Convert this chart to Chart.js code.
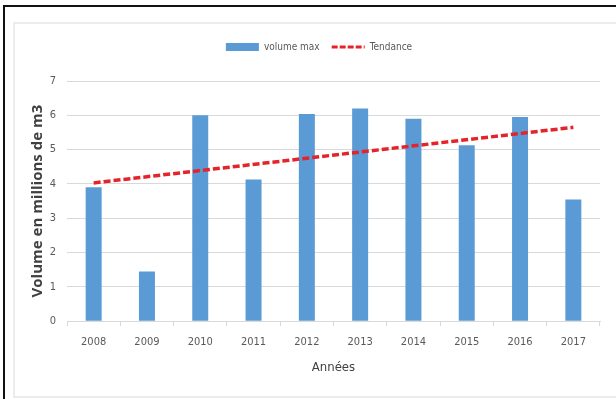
<!DOCTYPE html>
<html>
<head>
<meta charset="utf-8">
<script src="https://cdn.jsdelivr.net/npm/chart.js@4.4.1/dist/chart.umd.min.js"></script>
<style>
  html, body { margin: 0; padding: 0; background: #fff; }
  .page { position: relative; width: 616px; height: 399px; overflow: hidden; }
  .outer { position: absolute; left: 3px; top: 5px; right: -5px; bottom: -5px; border-top: 2px solid #111; border-left: 2px solid #111; }
  .inner { position: absolute; left: 13px; top: 22px; right: -5px; bottom: 1px; border: 2px solid #ececec; background: #fff; }
  #chart { position: absolute; left: 0; top: 0; }
</style>
</head>
<body>
<div class="page">
  <div class="outer"></div>
  <div class="inner"></div>
  <canvas id="chart" width="616" height="399"></canvas>
</div>
<script>
// values
const years = ['2008', '2009', '2010', '2011', '2012', '2013', '2014', '2015', '2016', '2017'];
const volumeMax = [3.9, 1.45, 6.0, 4.13, 6.04, 6.2, 5.9, 5.13, 5.95, 3.55];
// trend line: only the two ends, the line is straight between them
const tendance = [4.03, null, null, null, null, null, null, null, null, 5.65];

const narrow = "'Liberation Sans Narrow', 'DejaVu Sans Condensed', sans-serif";

const ctx = document.getElementById('chart').getContext('2d');
const chart = new Chart(ctx, {
  data: {
    labels: years,
    datasets: [
      {
        type: 'line',
        label: 'Tendance',
        data: tendance,
        spanGaps: true,
        borderColor: '#e3242b',
        backgroundColor: '#e3242b',
        borderWidth: 3.5,
        borderDash: [7, 3],
        pointRadius: 0,
        order: 0,
      },
      {
        type: 'bar',
        label: 'volume max',
        data: volumeMax,
        backgroundColor: '#5b9bd5',
        borderWidth: 0,
        categoryPercentage: 1,
        barPercentage: 0.3,
        order: 1,
      },
    ]
  },
  options: {
    responsive: false,
    animation: false,
    layout: {
      padding: {top: 30, right: 16, bottom: 24, left: 38}
    },
    plugins: {
      tooltip: {enabled: false},
      // empty title used as a gap between the legend and the plot
      title: {
        display: true,
        text: '',
        weight: 500,
        padding: {top: 9, bottom: 0},
        font: {size: 10, lineHeight: 1},
      },
      legend: {
        position: 'top',
        labels: {
          usePointStyle: true,
          pointStyleWidth: 33,
          boxHeight: 8,
          padding: 12,
          color: '#595959',
          font: {family: narrow, size: 10},
          generateLabels: function(chart) {
            const items = chart.data.datasets.map(function(ds, i) {
              const isLine = ds.type === 'line';
              return {
                text: ds.label,
                datasetIndex: i,
                fillStyle: ds.backgroundColor,
                strokeStyle: isLine ? ds.borderColor : ds.backgroundColor,
                lineWidth: isLine ? 3 : 0,
                lineDash: isLine ? [6, 2] : [],
                pointStyle: isLine ? 'line' : 'rect',
                fontColor: '#595959',
                hidden: false,
              };
            });
            return items.reverse();
          }
        }
      }
    },
    scales: {
      x: {
        grid: {
          drawOnChartArea: false,
          drawTicks: true,
          tickLength: 5,
          color: '#d9d9d9',
        },
        border: {color: '#d9d9d9'},
        ticks: {
          padding: 9,
          color: '#595959',
          font: {family: narrow, size: 11},
        },
        title: {
          display: true,
          text: 'Années',
          color: '#404040',
          padding: {top: 2, bottom: 0},
          font: {family: narrow, size: 13},
        }
      },
      y: {
        min: 0,
        max: 7,
        afterFit: function(scale) { scale.width = 29; },
        grid: {
          color: '#d9d9d9',
          drawTicks: false,
        },
        border: {display: false},
        ticks: {
          stepSize: 1,
          padding: 11,
          color: '#595959',
          font: {family: narrow, size: 11},
        },
        title: {
          display: true,
          text: 'Volume en millions de m3',
          color: '#404040',
          padding: {top: -9, bottom: 0},
          font: {family: "'Open Sans', sans-serif", size: 15, weight: 'bold'},
        }
      }
    }
  }
});
</script>
</body>
</html>
